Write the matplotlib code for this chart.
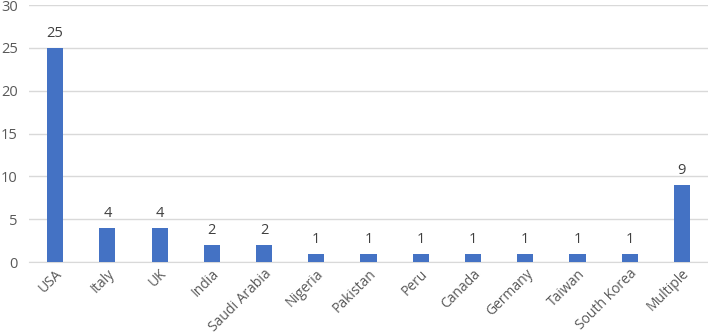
import matplotlib
matplotlib.use("Agg")
import matplotlib.pyplot as plt

categories = ["USA", "Italy", "UK", "India", "Saudi Arabia", "Nigeria", "Pakistan",
              "Peru", "Canada", "Germany", "Taiwan", "South Korea", "Multiple"]
values = [25, 4, 4, 2, 2, 1, 1, 1, 1, 1, 1, 1, 9]
yticks = [0, 5, 10, 15, 20, 25, 30]

plt.rcParams['font.family'] = ['Open Sans', 'DejaVu Sans']
fig = plt.figure(figsize=(7.08, 3.36), dpi=100)
ax = fig.add_axes([0.041, 0.22, 0.959, 0.765])
x = list(range(len(categories)))
bars = ax.bar(x, values, width=0.31, color="#4472C4", zorder=3)
for xi, v in zip(x, values):
    ax.text(xi, v + 0.8, str(v), ha="center", va="bottom", fontsize=10.5, color="#404040")
ax.set_xlim(-0.5, len(categories) - 0.5)
ax.set_ylim(0, 30)
ax.set_yticks(yticks)
ax.set_yticklabels([str(t) for t in yticks], fontsize=10.5, color="#595959")
ax.set_xticks(x)
ax.set_xticklabels(categories, rotation=45, ha="right", rotation_mode="anchor",
                   fontsize=10, color="#595959")
ax.grid(axis="y", color="#D9D9D9", linewidth=1, zorder=0)
for s in ["top", "right", "left"]:
    ax.spines[s].set_visible(False)
ax.spines["bottom"].set_color("#D9D9D9")
ax.tick_params(axis="y", length=0, pad=8)
ax.tick_params(axis="x", length=0, pad=3)
fig.savefig("out.png", dpi=100)
